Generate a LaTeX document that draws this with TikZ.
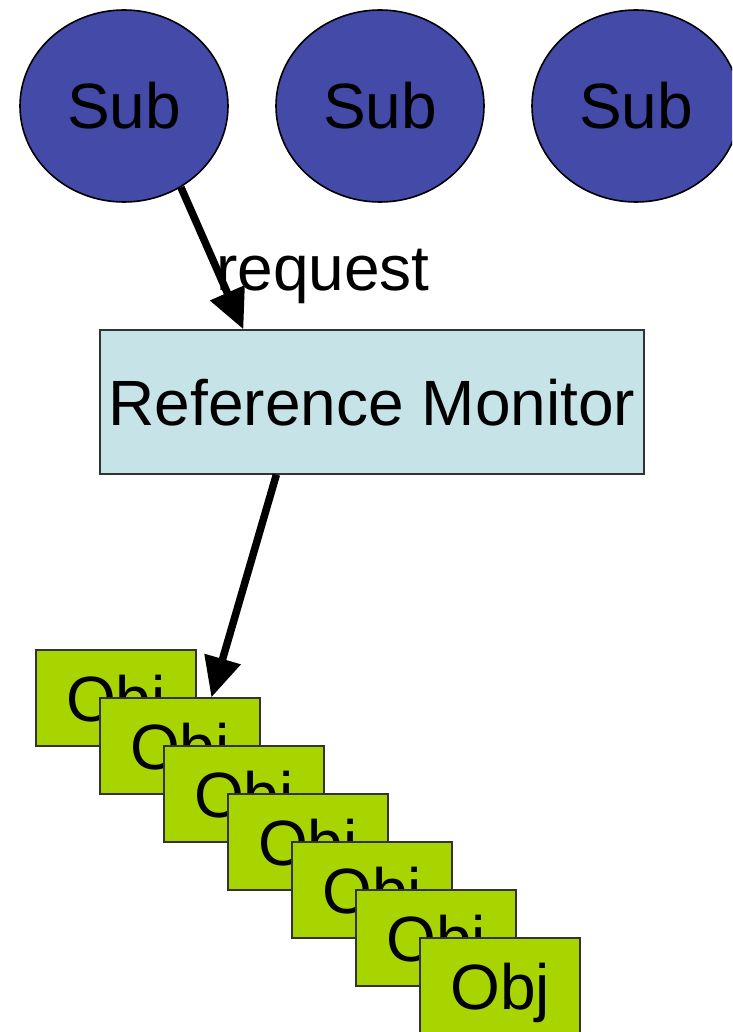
\documentclass[tikz,border=0pt]{standalone}
\usepackage{fontspec}
\setmainfont{Liberation Sans}
\usetikzlibrary{shapes.geometric,arrows.meta,calc}
\definecolor{subblue}{RGB}{68,74,168}
\definecolor{rmblue}{RGB}{198,228,232}
\definecolor{objgreen}{RGB}{168,212,0}
\begin{document}
\begin{tikzpicture}[x=1pt,y=-1pt,
  every node/.style={font=\fontsize{64}{77}\selectfont, text height=46pt, text depth=0pt, inner sep=0pt},
  subnode/.style={ellipse, draw=black, line width=1.6pt, fill=subblue, minimum width=208pt, minimum height=192pt},
  rmbox/.style={rectangle, draw=black!80, line width=1.2pt, fill=rmblue, minimum width=544pt, minimum height=144pt},
  objbox/.style={rectangle, draw=black!80, line width=1.2pt, fill=objgreen, minimum width=160pt, minimum height=96pt},
  conn/.style={line width=7.5pt, -{Triangle[length=40pt,width=36pt]}}]
\useasboundingbox (0,0) rectangle (732,1032);
\clip (0,0) rectangle (732,1032);
\node[subnode] (s1) at (124,106) {Sub};
\node[subnode] (s2) at (380,106) {Sub};
\node[subnode] (s3) at (636,106) {Sub};
\node[rmbox] (rm) at (372,402) {Reference Monitor};
\foreach \i in {1,...,7}{
  \node[objbox] (o\i) at ({116+64*(\i-1)},{698+48*(\i-1)}) {Obj};
}
\node[anchor=base west] (req) at (216,290) {request};
\draw[conn] (s1.-55.7) -- ($(rm.north west)+(144,0)$);
\draw[conn] ($(rm.south west)+(177,0)$) -- ($(o2.north west)+(112,0)$);
\end{tikzpicture}
\end{document}
